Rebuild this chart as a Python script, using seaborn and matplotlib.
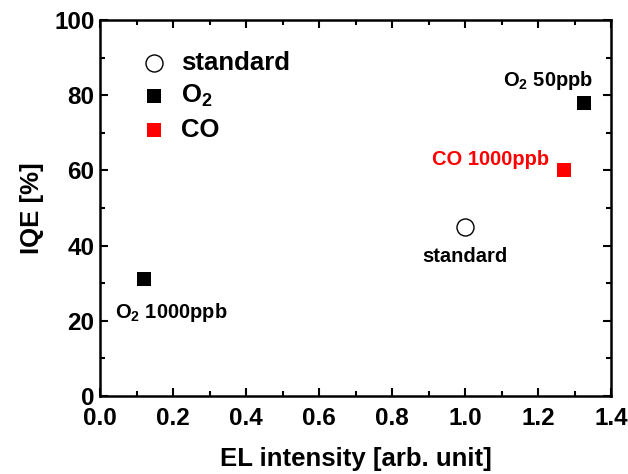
import matplotlib
matplotlib.use('Agg')
import matplotlib.pyplot as plt
import seaborn as sns
import pandas as pd
from matplotlib.ticker import MultipleLocator

groups = ['standard', 'O2', 'O2', 'CO']
el_intensity = [1.0, 0.12, 1.326, 1.27]
iqe = [45, 31, 78, 60]
point_labels = ['standard', 'O$_2$ 1000ppb', 'O$_2$ 50ppb', 'CO 1000ppb']
legend_labels = {'standard': 'standard', 'O2': 'O$_2$', 'CO': 'CO'}
x_ticks = [0, 0.2, 0.4, 0.6, 0.8, 1.0, 1.2, 1.4]
x_tick_labels = ['0.0', '0.2', '0.4', '0.6', '0.8', '1.0', '1.2', '1.4']

df = pd.DataFrame({'group': groups, 'el': el_intensity, 'iqe': iqe, 'label': point_labels})

sns.set_style('ticks')
plt.rcParams['font.family'] = ['Liberation Sans', 'DejaVu Sans']
plt.rcParams['font.weight'] = 'bold'
plt.rcParams['text.color'] = 'black'
plt.rcParams['axes.labelcolor'] = 'black'
plt.rcParams['axes.edgecolor'] = 'black'
plt.rcParams['xtick.color'] = 'black'
plt.rcParams['ytick.color'] = 'black'
plt.rcParams['mathtext.fontset'] = 'custom'
plt.rcParams['mathtext.rm'] = 'Liberation Sans:bold'
plt.rcParams['mathtext.bf'] = 'Liberation Sans:bold'
plt.rcParams['mathtext.default'] = 'bf'

fig = plt.figure(figsize=(6.28, 4.74), dpi=100)
ax = fig.add_axes([100/628, 1-396/474, 511/628, 376/474])

styles = {
    'standard': dict(marker='o', color='white', edgecolor='black', linewidth=1.0, s=150),
    'O2': dict(marker='s', color='black', edgecolor='black', linewidth=0, s=105),
    'CO': dict(marker='s', color='#ff0000', edgecolor='#ff0000', linewidth=0, s=105),
}
for g in ['standard', 'O2', 'CO']:
    sub = df[df.group == g]
    sns.scatterplot(data=sub, x='el', y='iqe', ax=ax, label=legend_labels[g], zorder=3, **styles[g])

# annotations (offsets in pixels relative to points)
ann = {
    'standard': dict(dx=0, dy=-30, ha='center', va='center', color='black'),
    'O$_2$ 1000ppb': dict(dx=-29, dy=-33, ha='left', va='center', color='black'),
    'O$_2$ 50ppb': dict(dx=9, dy=22, ha='right', va='center', color='black'),
    'CO 1000ppb': dict(dx=-14, dy=11, ha='right', va='center', color='#ff0000'),
}
for _, r in df.iterrows():
    a = ann[r['label']]
    ax.annotate(r['label'], xy=(r['el'], r['iqe']), xytext=(a['dx']*0.72, a['dy']*0.72),
                textcoords='offset points', ha=a['ha'], va=a['va'], color=a['color'],
                fontsize=14.5, fontweight='bold')

ax.set_xlim(0, 1.4)
ax.set_ylim(0, 100)
ax.xaxis.set_minor_locator(MultipleLocator(0.1))
ax.yaxis.set_major_locator(MultipleLocator(20))
ax.yaxis.set_minor_locator(MultipleLocator(10))
ax.set_xticks(x_ticks)
ax.set_xticklabels(x_tick_labels)
ax.tick_params(which='both', direction='in', top=True, right=True, width=1.5, labelsize=17.5)
ax.tick_params(axis='y', pad=4)
ax.tick_params(axis='x', pad=8)
ax.tick_params(which='major', length=5.5)
ax.tick_params(which='minor', length=3.5)
for sp in ax.spines.values():
    sp.set_linewidth(1.8)
    sp.set_visible(True)

ax.set_xlabel('EL intensity [arb. unit]', fontsize=18.5, fontweight='bold', labelpad=12)
ax.set_ylabel('IQE [%]', fontsize=18.5, fontweight='bold', labelpad=7)

leg = ax.legend(loc='upper left', bbox_to_anchor=(0.06, 0.945), frameon=False, fontsize=18.5,
                handletextpad=0.55, labelspacing=0.32, borderaxespad=0, handlelength=1.0)

fig.savefig('out.png', dpi=100)
